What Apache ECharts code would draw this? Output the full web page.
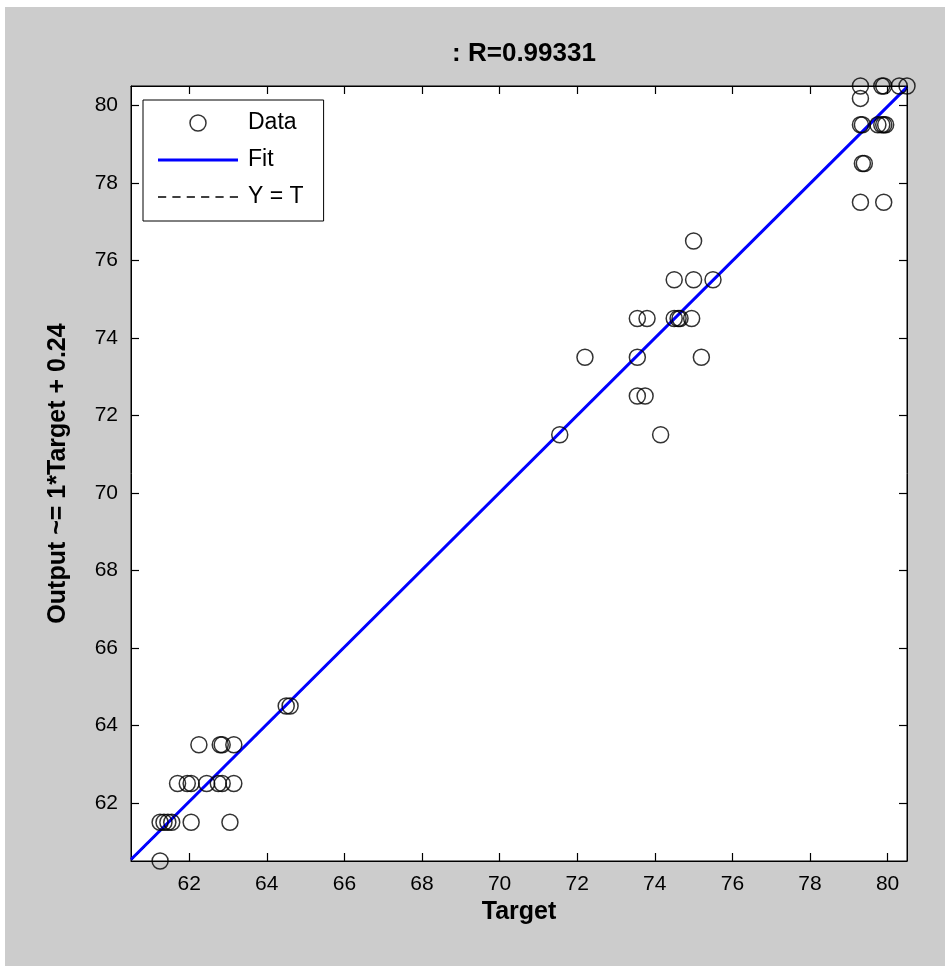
<!DOCTYPE html>
<html>
<head>
<meta charset="utf-8">
<script src="https://cdn.jsdelivr.net/npm/echarts@6/dist/echarts.min.js"></script>
<style>
  html, body { margin: 0; padding: 0; background: #fff; }
  #chart { width: 945px; height: 966px; }
</style>
</head>
<body>
<div id="chart"></div>
<script>
// target / output pairs
var targets = [
  61.25,
  61.25, 61.35, 61.45, 61.55, 62.05, 63.05,
  61.7, 61.95, 62.05, 62.45, 62.75, 62.85, 63.15,
  62.25, 62.8, 62.85, 63.15,
  64.5, 64.6,
  71.55, 74.15,
  73.55, 73.75,
  72.2, 73.55, 75.2,
  73.55, 73.8, 74.5, 74.6, 74.65, 74.95,
  74.5, 75.0, 75.5,
  75.0,
  79.3, 79.9,
  79.35, 79.4,
  79.3, 79.35, 79.75, 79.85, 79.9, 79.95,
  79.3,
  79.3, 79.85, 79.9, 80.3, 80.5
];
var outputs = [
  60.5,
  61.5, 61.5, 61.5, 61.5, 61.5, 61.5,
  62.5, 62.5, 62.5, 62.5, 62.5, 62.5, 62.5,
  63.5, 63.5, 63.5, 63.5,
  64.5, 64.5,
  71.5, 71.5,
  72.5, 72.5,
  73.5, 73.5, 73.5,
  74.5, 74.5, 74.5, 74.5, 74.5, 74.5,
  75.5, 75.5, 75.5,
  76.5,
  77.5, 77.5,
  78.5, 78.5,
  79.5, 79.5, 79.5, 79.5, 79.5, 79.5,
  80.18,
  80.5, 80.5, 80.5, 80.5, 80.5
];
var fitLine = [[60.5, 60.54], [80.5, 80.47]];
var identityLine = [[60.5, 60.5], [80.5, 80.5]];
var tickValues = [62, 64, 66, 68, 70, 72, 74, 76, 78, 80];

var points = targets.map(function (t, i) { return [t, outputs[i]]; });

var chart = echarts.init(document.getElementById('chart'));
var font = 'Liberation Sans, Arial, sans-serif';

function axisBase(pos, showLabel) {
  return {
    type: 'value',
    position: pos,
    min: 60.5,
    max: 80.5,
    splitLine: { show: false },
    axisLine: { show: true, onZero: false, lineStyle: { color: '#000', width: 1 } },
    axisTick: { show: true, inside: true, length: 8, customValues: tickValues, lineStyle: { color: '#000', width: 1.2 } },
    axisLabel: { show: showLabel, customValues: tickValues, color: '#000', fontSize: 21, fontFamily: font, margin: 13 }
  };
}

var xBottom = axisBase('bottom', true);
xBottom.name = 'Target';
xBottom.nameLocation = 'middle';
xBottom.nameGap = 32;
xBottom.nameTextStyle = { color: '#000', fontSize: 25, fontWeight: 'bold', fontFamily: font };
var xTop = axisBase('top', false);

var yLeft = axisBase('left', true);
yLeft.name = 'Output ~= 1*Target + 0.24';
yLeft.nameLocation = 'middle';
yLeft.nameGap = 60;
yLeft.nameTextStyle = { color: '#000', fontSize: 25, fontWeight: 'bold', fontFamily: font };
var yRight = axisBase('right', false);

var dashIcon = 'path://M0,0h8v1.4h-8z M14,0h8v1.4h-8z M28,0h8v1.4h-8z M42,0h8v1.4h-8z M56,0h8v1.4h-8z M70,0h8v1.4h-8z';
var solidIcon = 'path://M0,0h80v3h-80z';

var option = {
  backgroundColor: '#ffffff',
  animation: false,
  graphic: [{
    type: 'rect', z: -10, silent: true,
    shape: { x: 5, y: 7, width: 945, height: 966 },
    style: { fill: '#cccccc' }
  }],
  title: {
    text: ': R=0.99331',
    left: 519, top: 36, textAlign: 'center',
    textStyle: { color: '#000', fontSize: 26, fontWeight: 'bold', fontFamily: font }
  },
  grid: {
    left: 131, top: 86, width: 776, height: 775,
    show: true, backgroundColor: '#ffffff', borderColor: '#000', borderWidth: 1
  },
  xAxis: [xBottom, xTop],
  yAxis: [yLeft, yRight],
  legend: {
    orient: 'vertical',
    left: 143, top: 100,
    backgroundColor: '#ffffff',
    borderColor: '#000', borderWidth: 1,
    padding: [11, 20, 12, 15],
    itemWidth: 80, itemHeight: 16, itemGap: 13,
    textStyle: { color: '#000', fontSize: 23, lineHeight: 24, fontFamily: font, padding: [0, 0, 0, 5] },
    data: [
      { name: 'Data', icon: 'circle', itemStyle: { color: 'rgba(0,0,0,0)', borderColor: '#000', borderWidth: 1.5 } },
      { name: 'Fit', icon: solidIcon, itemStyle: { color: '#0000ff', borderWidth: 0 } },
      { name: 'Y = T', icon: dashIcon, itemStyle: { color: '#000', borderWidth: 0 } }
    ]
  },
  series: [
    {
      name: 'Data', type: 'scatter', data: points,
      symbol: 'circle', symbolSize: 16, clip: false,
      itemStyle: { color: 'rgba(0,0,0,0)', borderColor: '#000', borderWidth: 1.5 },
      z: 3
    },
    {
      name: 'Fit', type: 'line', data: fitLine, symbol: 'none',
      lineStyle: { color: '#0000ff', width: 3 },
      itemStyle: { color: '#0000ff' },
      z: 2
    },
    {
      name: 'Y = T', type: 'line', data: identityLine, symbol: 'none',
      lineStyle: { color: '#000', width: 1, type: [4, 4] },
      itemStyle: { color: '#000' },
      z: 1
    }
  ]
};
chart.setOption(option);
</script>
</body>
</html>
